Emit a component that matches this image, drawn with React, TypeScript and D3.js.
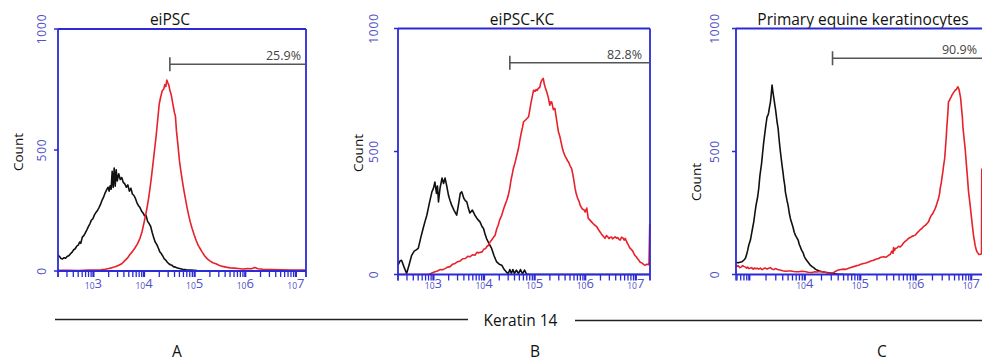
import React from "react";
import * as d3 from "d3";

// ---- data: [log10 fluorescence, count] ----
const aBlack: [number, number][] = [[2.30,66],[2.33,60],[2.36,52],[2.39,50],[2.42,55],[2.45,53],[2.48,60],[2.52,64],[2.55,72],[2.58,78],[2.61,88],[2.64,92],[2.67,103],[2.70,107],[2.73,120],[2.75,114],[2.78,140],[2.81,146],[2.84,158],[2.87,170],[2.90,183],[2.93,195],[2.96,210],[2.99,216],[3.02,232],[3.05,242],[3.08,250],[3.11,262],[3.14,275],[3.17,292],[3.20,305],[3.23,322],[3.26,335],[3.29,346],[3.31,330],[3.33,352],[3.35,338],[3.37,412],[3.39,345],[3.41,425],[3.43,350],[3.45,418],[3.47,372],[3.50,402],[3.53,378],[3.56,386],[3.59,366],[3.62,360],[3.65,346],[3.68,356],[3.71,330],[3.74,342],[3.77,318],[3.80,312],[3.83,300],[3.86,282],[3.89,270],[3.92,262],[3.95,248],[3.98,240],[4.01,228],[4.04,230],[4.07,205],[4.10,196],[4.13,185],[4.16,160],[4.19,138],[4.22,120],[4.25,110],[4.28,96],[4.31,80],[4.34,72],[4.37,62],[4.40,50],[4.43,45],[4.46,36],[4.49,30],[4.52,26],[4.55,24],[4.58,18],[4.62,16],[4.66,12],[4.70,10],[4.76,7],[4.84,5],[4.92,4],[5.05,2],[5.3,1],[5.6,1],[6.0,0],[6.5,0],[7.2,0]];
const aRed: [number, number][] = [[2.30,3],[2.5,3],[2.7,2],[2.9,4],[3.05,4],[3.15,5],[3.23,7],[3.30,10],[3.36,13],[3.43,18],[3.50,24],[3.56,30],[3.63,45],[3.68,55],[3.72,68],[3.77,80],[3.82,95],[3.87,112],[3.92,135],[3.96,162],[4.00,200],[4.03,230],[4.06,262],[4.09,300],[4.12,345],[4.15,395],[4.18,450],[4.21,505],[4.24,560],[4.27,625],[4.30,690],[4.33,720],[4.36,745],[4.39,752],[4.41,770],[4.43,762],[4.45,789],[4.47,778],[4.49,768],[4.51,748],[4.54,725],[4.57,690],[4.60,655],[4.62,640],[4.64,580],[4.67,520],[4.70,455],[4.73,410],[4.76,368],[4.79,330],[4.82,296],[4.85,262],[4.88,232],[4.91,205],[4.95,176],[4.99,150],[5.03,126],[5.07,106],[5.11,92],[5.15,78],[5.20,62],[5.25,50],[5.30,42],[5.36,34],[5.42,30],[5.48,24],[5.55,19],[5.62,16],[5.70,13],[5.78,12],[5.86,10],[5.95,8],[6.05,10],[6.12,9],[6.19,14],[6.25,9],[6.35,7],[6.5,6],[6.7,5],[6.9,4],[7.05,4],[7.2,4]];

const bBlack: [number, number][] = [[2.30,38],[2.34,55],[2.37,58],[2.42,30],[2.47,4],[2.52,40],[2.57,78],[2.62,95],[2.66,100],[2.70,106],[2.75,150],[2.80,190],[2.84,220],[2.87,241],[2.92,290],[2.97,336],[3.00,350],[3.03,376],[3.06,330],[3.08,360],[3.10,295],[3.13,350],[3.17,392],[3.20,370],[3.23,392],[3.26,363],[3.30,320],[3.33,300],[3.36,282],[3.41,260],[3.46,241],[3.50,290],[3.53,330],[3.56,336],[3.60,310],[3.63,300],[3.66,295],[3.69,270],[3.72,250],[3.77,262],[3.82,241],[3.87,225],[3.92,214],[3.96,195],[3.99,187],[4.02,165],[4.05,146],[4.10,125],[4.15,106],[4.20,75],[4.25,51],[4.30,42],[4.35,38],[4.40,20],[4.45,8],[4.48,4],[4.51,20],[4.54,4],[4.57,20],[4.60,4],[4.64,18],[4.68,4],[4.72,20],[4.76,3],[4.80,18],[4.84,2],[4.90,1],[5.10,0],[7.28,0]];
const bRed: [number, number][] = [[2.30,0],[2.90,0],[3.03,11],[3.08,14],[3.13,20],[3.18,19],[3.23,24],[3.28,30],[3.33,32],[3.38,42],[3.43,45],[3.48,52],[3.53,55],[3.58,64],[3.63,65],[3.68,74],[3.72,72],[3.77,80],[3.82,78],[3.86,90],[3.90,88],[3.96,92],[4.00,104],[4.03,105],[4.06,115],[4.09,119],[4.12,132],[4.15,140],[4.19,152],[4.22,160],[4.25,185],[4.28,200],[4.31,222],[4.35,241],[4.38,262],[4.41,280],[4.45,302],[4.48,322],[4.51,352],[4.53,380],[4.56,410],[4.58,431],[4.61,452],[4.63,470],[4.66,495],[4.68,512],[4.71,548],[4.73,570],[4.76,598],[4.78,620],[4.81,626],[4.83,630],[4.86,636],[4.88,641],[4.91,675],[4.93,700],[4.96,730],[4.98,749],[5.01,745],[5.03,752],[5.05,748],[5.07,756],[5.10,760],[5.12,778],[5.14,790],[5.17,797],[5.19,775],[5.21,760],[5.24,742],[5.27,720],[5.30,688],[5.32,702],[5.34,700],[5.37,670],[5.40,675],[5.42,648],[5.44,620],[5.47,580],[5.50,560],[5.52,540],[5.55,512],[5.57,498],[5.60,482],[5.62,475],[5.65,462],[5.67,458],[5.70,442],[5.73,431],[5.75,412],[5.77,390],[5.80,350],[5.82,330],[5.85,310],[5.88,296],[5.90,282],[5.93,270],[5.95,265],[5.98,262],[6.00,254],[6.03,270],[6.06,228],[6.09,222],[6.12,215],[6.16,206],[6.19,201],[6.22,196],[6.24,190],[6.27,180],[6.29,174],[6.32,165],[6.34,160],[6.37,152],[6.39,147],[6.42,158],[6.44,155],[6.47,146],[6.49,150],[6.52,152],[6.54,145],[6.57,150],[6.59,153],[6.62,148],[6.64,150],[6.67,142],[6.69,140],[6.72,152],[6.74,150],[6.77,140],[6.79,147],[6.82,132],[6.84,125],[6.87,112],[6.89,106],[6.92,100],[6.94,95],[6.96,86],[6.98,78],[7.01,72],[7.03,65],[7.06,58],[7.08,51],[7.11,48],[7.13,45],[7.16,40],[7.19,38],[7.22,42],[7.26,40],[7.275,207]];

const cBlack: [number, number][] = [[2.76,49],[2.80,48],[2.83,50],[2.87,52],[2.90,58],[2.93,66],[2.95,80],[2.97,98],[2.99,119],[3.02,140],[3.04,165],[3.06,190],[3.08,214],[3.10,248],[3.12,280],[3.15,315],[3.17,350],[3.19,400],[3.22,450],[3.24,495],[3.26,539],[3.28,575],[3.30,610],[3.31,625],[3.32,641],[3.34,650],[3.35,660],[3.36,675],[3.38,700],[3.39,720],[3.40,745],[3.41,770],[3.42,752],[3.44,720],[3.46,690],[3.47,675],[3.49,640],[3.50,620],[3.52,592],[3.53,566],[3.55,520],[3.56,500],[3.58,462],[3.59,444],[3.61,410],[3.62,390],[3.64,360],[3.65,336],[3.68,300],[3.70,280],[3.72,250],[3.74,228],[3.77,205],[3.79,190],[3.81,172],[3.83,160],[3.86,148],[3.88,140],[3.90,122],[3.92,112],[3.94,100],[3.97,88],[3.99,74],[4.01,65],[4.04,56],[4.06,50],[4.08,44],[4.10,38],[4.13,32],[4.16,28],[4.19,22],[4.22,18],[4.26,14],[4.30,12],[4.37,9],[4.43,7],[4.49,5],[4.55,3],[4.60,2],[4.70,1],[4.91,0]];
const cRed: [number, number][] = [[2.76,38],[2.78,34],[2.80,35],[2.83,28],[2.85,30],[2.88,36],[2.90,33],[2.93,30],[2.95,26],[2.97,30],[2.99,24],[3.02,26],[3.04,28],[3.07,22],[3.09,26],[3.11,24],[3.14,25],[3.17,22],[3.20,26],[3.23,20],[3.26,24],[3.29,26],[3.32,22],[3.35,25],[3.38,28],[3.41,22],[3.44,20],[3.47,24],[3.51,20],[3.55,18],[3.60,15],[3.65,13],[3.70,14],[3.75,14],[3.80,12],[3.85,11],[3.89,11],[3.95,13],[4.00,12],[4.06,9],[4.13,8],[4.18,11],[4.22,10],[4.27,12],[4.31,11],[4.36,9],[4.40,7],[4.45,6],[4.49,5],[4.52,8],[4.55,12],[4.58,16],[4.61,18],[4.65,20],[4.70,22],[4.74,21],[4.79,25],[4.83,28],[4.88,32],[4.92,35],[4.97,38],[5.01,42],[5.06,45],[5.10,47],[5.15,51],[5.19,55],[5.24,58],[5.28,62],[5.33,65],[5.37,70],[5.42,72],[5.46,70],[5.51,78],[5.54,82],[5.57,95],[5.59,86],[5.60,110],[5.62,98],[5.63,106],[5.66,108],[5.69,115],[5.72,112],[5.75,119],[5.78,128],[5.81,135],[5.84,140],[5.87,147],[5.90,150],[5.93,155],[5.96,157],[5.99,160],[6.02,168],[6.05,175],[6.08,182],[6.11,187],[6.14,195],[6.17,200],[6.20,206],[6.23,214],[6.25,226],[6.28,240],[6.30,246],[6.32,254],[6.35,268],[6.37,280],[6.39,295],[6.41,309],[6.43,330],[6.44,350],[6.46,372],[6.47,390],[6.49,420],[6.50,440],[6.52,470],[6.53,498],[6.55,560],[6.56,600],[6.58,660],[6.59,702],[6.61,708],[6.62,715],[6.64,722],[6.65,729],[6.67,735],[6.68,740],[6.70,745],[6.71,749],[6.73,752],[6.74,755],[6.75,760],[6.76,763],[6.78,752],[6.79,740],[6.81,715],[6.82,688],[6.84,640],[6.85,600],[6.87,555],[6.89,512],[6.91,455],[6.93,400],[6.95,340],[6.98,282],[7.00,240],[7.02,200],[7.04,160],[7.07,119],[7.09,100],[7.11,90],[7.13,84],[7.14,81],[7.17,82],[7.185,85],[7.19,431]];

const titles = ["eiPSC", "eiPSC-KC", "Primary equine keratinocytes"];
const gatePercents = ["25.9%", "82.8%", "90.9%"];
const gateStartExp = [4.51, 4.51, 4.5];
const gateLevels = [854, 861, 879];
const panelLetters = ["A", "B", "C"];
const yTicks = [0, 500, 1000];
const aDecadeLabels = [3, 4, 5, 6, 7];
const bDecadeLabels = [3, 4, 5, 6, 7];
const cDecadeLabels = [4, 5, 6, 7];
const axisTitle = "Keratin 14";

const BLUE = "#2a2ad6";
const LBLUE = "#5050c8";
const RED = "#e8202a";
const FONT = "'Open Sans', 'DejaVu Sans', sans-serif";

type PanelProps = {
  left: number; right: number; top: number; bottom: number;
  domain: [number, number];
  black: [number, number][]; red: [number, number][];
  title: string; titleX: number;
  gatePct: string; gateExp: number; gateLevel: number; gateLabelInset: number;
  decadeLabels: number[];
  yLabelX: number; countX: number; countY: number;
  showRightFrame: boolean;
};

function Panel(p: PanelProps) {
  const x = d3.scaleLog().domain([10 ** p.domain[0], 10 ** p.domain[1]]).range([p.left, p.right]);
  const y = d3.scaleLinear().domain([0, 1000]).range([p.bottom, p.top]);
  const line = d3.line<[number, number]>().x(d => x(10 ** d[0])).y(d => y(d[1]));
  const ticks = x.ticks();
  const isDecade = (v: number) => Math.abs(Math.log10(v) - Math.round(Math.log10(v))) < 1e-9;
  const gx = x(10 ** p.gateExp);
  const gy = y(p.gateLevel);
  return (
    <g>
      <defs>
        <clipPath id={`clip-${p.left}`}>
          <rect x={p.left} y={p.top - 2} width={p.right - p.left + 1} height={p.bottom - p.top + 3} />
        </clipPath>
      </defs>
      <text x={p.titleX} y={24.5} textAnchor="middle" fontFamily={FONT} fontSize={15.5} fill="#111">{p.title}</text>
      {/* curves */}
      <g clipPath={`url(#clip-${p.left})`}>
        <path d={line(p.black) || ""} fill="none" stroke="#111" strokeWidth={1.6} strokeLinejoin="round" />
        <path d={line(p.red) || ""} fill="none" stroke={RED} strokeWidth={1.6} strokeLinejoin="round" />
      </g>
      {/* frame */}
      <line x1={p.left} x2={p.right} y1={p.top} y2={p.top} stroke={BLUE} strokeWidth={1.8} />
      <line x1={p.left} x2={p.right} y1={p.bottom} y2={p.bottom} stroke={BLUE} strokeWidth={2} />
      <line x1={p.left} x2={p.left} y1={p.top} y2={p.bottom} stroke={BLUE} strokeWidth={1.8} />
      {p.showRightFrame && <line x1={p.right} x2={p.right} y1={p.top} y2={p.bottom + 6} stroke={BLUE} strokeWidth={1.8} />}
      {/* x ticks */}
      {ticks.map((t, i) => (
        <line key={i} x1={x(t)} x2={x(t)} y1={p.bottom} y2={p.bottom + 6} stroke={BLUE} strokeWidth={isDecade(t) ? 2.2 : 1.3} />
      ))}
      <line x1={p.left} x2={p.left} y1={p.bottom} y2={p.bottom + 6} stroke={BLUE} strokeWidth={1.5} />
      {p.decadeLabels.map(e => (
        <text key={e} x={x(10 ** e)} y={289} textAnchor="middle" fontFamily={FONT} fill={LBLUE}>
          <tspan fontSize={8.5}>10</tspan>
          <tspan fontSize={13} dy={-1.5}>{e}</tspan>
        </text>
      ))}
      {/* y ticks */}
      {yTicks.map(v => (
        <g key={v}>
          <line x1={p.left - 4} x2={p.left} y1={y(v)} y2={y(v)} stroke={BLUE} strokeWidth={1.5} />
          <text transform={`translate(${p.yLabelX},${y(v)}) rotate(-90)`} textAnchor="middle" dominantBaseline="central" fontFamily={FONT} fontSize={12} letterSpacing={0.8} fill={LBLUE}>{v}</text>
        </g>
      ))}
      <text transform={`translate(${p.countX},${p.countY}) rotate(-90)`} textAnchor="middle" dominantBaseline="central" fontFamily={FONT} fontSize={13.5} fill="#111">Count</text>
      {/* gate */}
      <line x1={gx} x2={p.right} y1={gy} y2={gy} stroke="#555" strokeWidth={1.5} />
      <line x1={gx} x2={gx} y1={gy - 7} y2={gy + 7} stroke="#555" strokeWidth={1.6} />
      <text x={Math.min(p.right, 982) - p.gateLabelInset} y={gy - 4} textAnchor="end" fontFamily={FONT} fontSize={12.5} fill="#444">{p.gatePct}</text>
    </g>
  );
}

export default function App() {
  return (
    <svg width={982} height={362} style={{ position: "absolute", left: 0, top: 0, background: "#fff" }}>
      <rect x={0} y={0} width={982} height={362} fill="#fff" />
      <Panel left={58} right={306} top={29} bottom={271} domain={[2.3, 7.2]} black={aBlack} red={aRed}
        title={titles[0]} titleX={170} gatePct={gatePercents[0]} gateExp={gateStartExp[0]} gateLevel={gateLevels[0]} gateLabelInset={5}
        decadeLabels={aDecadeLabels} yLabelX={41} countX={18} countY={152} showRightFrame={true} />
      <Panel left={398} right={650} top={28.5} bottom={274.5} domain={[2.3, 7.28]} black={bBlack} red={bRed}
        title={titles[1]} titleX={522} gatePct={gatePercents[1]} gateExp={gateStartExp[1]} gateLevel={gateLevels[1]} gateLabelInset={8}
        decadeLabels={bDecadeLabels} yLabelX={373} countX={357.5} countY={153} showRightFrame={true} />
      <Panel left={736} right={984} top={28.5} bottom={274.5} domain={[2.76, 7.23]} black={cBlack} red={cRed}
        title={titles[2]} titleX={863} gatePct={gatePercents[2]} gateExp={gateStartExp[2]} gateLevel={gateLevels[2]} gateLabelInset={5}
        decadeLabels={cDecadeLabels} yLabelX={714.5} countX={696} countY={182} showRightFrame={false} />
      {/* shared axis title */}
      <line x1={55} x2={468} y1={319.5} y2={319.5} stroke="#222" strokeWidth={1.6} />
      <text x={520.5} y={326} textAnchor="middle" fontFamily={FONT} fontSize={15.5} fill="#111">{axisTitle}</text>
      <line x1={575} x2={982} y1={320.5} y2={320.5} stroke="#222" strokeWidth={1.6} />
      {panelLetters.map((l, i) => (
        <text key={l} x={[177, 535, 882][i]} y={357} textAnchor="middle" fontFamily={FONT} fontSize={15.5} fill="#111">{l}</text>
      ))}
    </svg>
  );
}
